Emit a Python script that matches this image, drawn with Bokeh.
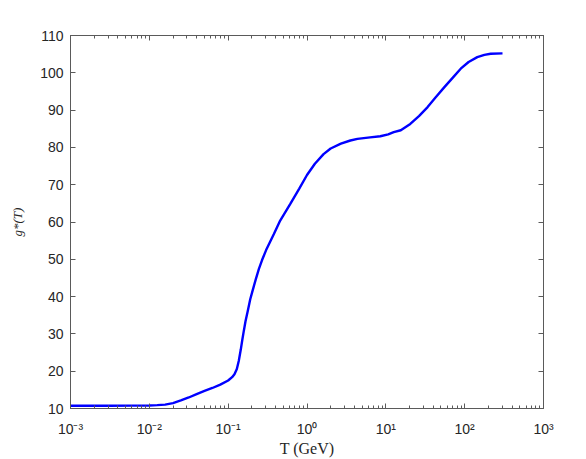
import numpy as np
from bokeh.plotting import figure
from bokeh.models import (Range1d, FixedTicker, LogAxis, LinearAxis,
                          CustomJSTickFormatter)
from bokeh.embed import file_html
from bokeh.resources import INLINE

# ---- data (log10 of T in GeV, and g*) ----
log10_T = [-3.0, -2.5, -2.2, -2.0, -1.9, -1.8, -1.7, -1.6, -1.5, -1.4, -1.3,
           -1.2, -1.1, -1.0, -0.95, -0.92, -0.89, -0.865, -0.84, -0.82, -0.80,
           -0.78, -0.75, -0.72, -0.69, -0.65, -0.61, -0.57, -0.52, -0.42,
           -0.34, -0.21, -0.10, 0.0, 0.10, 0.21, 0.30, 0.43, 0.55, 0.64, 0.80,
           0.93, 1.03, 1.10, 1.19, 1.31, 1.42, 1.53, 1.63, 1.74, 1.85, 1.95,
           2.05, 2.16, 2.25, 2.33, 2.48]
g_star = [10.75, 10.75, 10.76, 10.8, 10.9, 11.05, 11.45, 12.15, 12.95, 13.85,
          14.7, 15.5, 16.4, 17.5, 18.4, 19.2, 20.6, 22.8, 25.8, 28.5, 31.0,
          33.4, 36.3, 39.3, 41.6, 44.6, 47.45, 49.8, 52.4, 56.8,
          60.4, 64.9, 68.9, 72.6, 75.6, 78.2, 79.7, 81.0, 81.85, 82.3, 82.7,
          83.0, 83.5, 84.1, 84.6, 86.3, 88.4, 90.8, 93.4, 96.1, 98.7, 101.1,
          102.9, 104.2, 104.8, 105.1, 105.2]
T_GeV = [10.0 ** v for v in log10_T]

x_ticks = [1e-3, 1e-2, 1e-1, 1e0, 1e1, 1e2, 1e3]
x_minor = [m * 10.0 ** k for k in range(-3, 3) for m in range(2, 10)]
y_ticks = [10, 20, 30, 40, 50, 60, 70, 80, 90, 100, 110]

AX = "#262626"
LINE_AX = "#5a5a5a"

p = figure(width=586, height=459, x_axis_type="log",
           x_range=Range1d(1e-3, 1e3), y_range=Range1d(10, 110),
           output_backend="svg", toolbar_location=None,
           min_border_left=70, min_border_right=43,
           min_border_top=35, min_border_bottom=51)
p.grid.visible = False
p.outline_line_color = LINE_AX
p.outline_line_width = 1
p.background_fill_color = "white"
p.border_fill_color = "white"

p.line(T_GeV, g_star, line_color="#0000ff", line_width=2.4)

sup_fmt = CustomJSTickFormatter(code="""
const e = Math.round(Math.log10(tick));
const sup = {"-":"\u207b","0":"\u2070","1":"\u00b9","2":"\u00b2","3":"\u00b3",
             "4":"\u2074","5":"\u2075","6":"\u2076","7":"\u2077","8":"\u2078","9":"\u2079"};
return "10" + String(e).split("").map(c => sup[c]).join("");
""")
blank_fmt = CustomJSTickFormatter(code="return '';")


def style_axis(ax, ticks, minor):
    ax.ticker = FixedTicker(ticks=ticks, minor_ticks=minor)
    ax.axis_line_color = LINE_AX
    ax.major_tick_line_color = LINE_AX
    ax.minor_tick_line_color = LINE_AX
    ax.major_tick_in = 5
    ax.major_tick_out = 0
    ax.minor_tick_in = 3
    ax.minor_tick_out = 0
    ax.major_label_text_font = "Liberation Sans"
    ax.major_label_text_font_size = "14px"
    ax.major_label_text_color = AX


xa = p.xaxis[0]
style_axis(xa, x_ticks, x_minor)
xa.formatter = sup_fmt
xa.major_label_standoff = 12
xa.axis_label = "T (GeV)"
xa.axis_label_text_font = "Liberation Serif"
xa.axis_label_text_font_style = "normal"
xa.axis_label_text_font_size = "16px"
xa.axis_label_text_color = AX
xa.axis_label_standoff = 0

ya = p.yaxis[0]
style_axis(ya, y_ticks, [])
ya.major_label_standoff = 7
ya.axis_label = "g*(T)"
ya.axis_label_text_font = "Liberation Serif"
ya.axis_label_text_font_style = "italic"
ya.axis_label_text_font_size = "13px"
ya.axis_label_text_color = AX
ya.axis_label_standoff = 12

top = LogAxis()
style_axis(top, x_ticks, x_minor)
top.formatter = blank_fmt
top.major_label_text_font_size = "0px"
p.add_layout(top, "above")

right = LinearAxis()
style_axis(right, y_ticks, [])
right.formatter = blank_fmt
right.major_label_text_font_size = "0px"
p.add_layout(right, "right")

open("out.html", "w", encoding="utf-8").write(file_html(p, INLINE))
